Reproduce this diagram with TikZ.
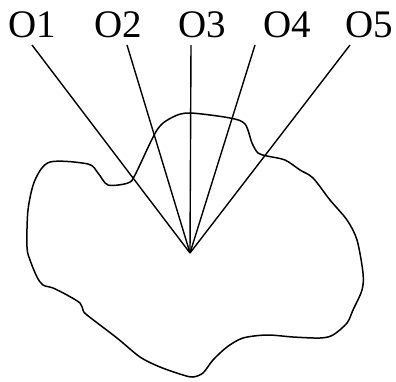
\documentclass[tikz,border=0pt]{standalone}
\usepackage{fontspec}
\setmainfont{Liberation Serif}
\begin{document}
\begin{tikzpicture}[x=1pt,y=-1pt,
  lbl/.style={anchor=base,inner sep=0pt,font=\fontsize{39}{39}\selectfont},
  ray/.style={line width=1.4pt},
  outline/.style={line width=1.5pt}]
\useasboundingbox (0,0) rectangle (396,381);
\node[lbl] (o1) at (32.5,37) {O1};
\node[lbl] (o2) at (118,37) {O2};
\node[lbl] (o3) at (202,37) {O3};
\node[lbl] (o4) at (287,37) {O4};
\node[lbl] (o5) at (369,37) {O5};
\coordinate (c) at (190,253);
\coordinate (t1) at (32,45);
\coordinate (t2) at (127,45);
\coordinate (t3) at (191,45);
\coordinate (t4) at (255,45);
\coordinate (t5) at (350,45);
\foreach \i in {1,...,5} \draw[ray] (t\i) -- (c);
\draw[outline] plot[smooth cycle,tension=0.5] coordinates {
(27,247) (28,210) (35,180) (50,162) (88,164) (98,173) (108,185) (128,183)
(135,175) (157,130) (173,117) (190,113) (230,118) (245,124) (252,143)
(258,153) (267,156) (285,160) (300,170) (313,178) (330,200) (347,220)
(357,240) (363,273) (362,290) (353,310) (347,323) (333,335) (320,338)
(293,337) (267,335) (243,338) (227,347) (213,360) (203,373) (193,377)
(183,375) (160,367) (140,357) (117,338) (87,315) (83,310) (80,303)
(67,295) (53,288) (43,285) (37,277) (30,260)};
\end{tikzpicture}
\end{document}
